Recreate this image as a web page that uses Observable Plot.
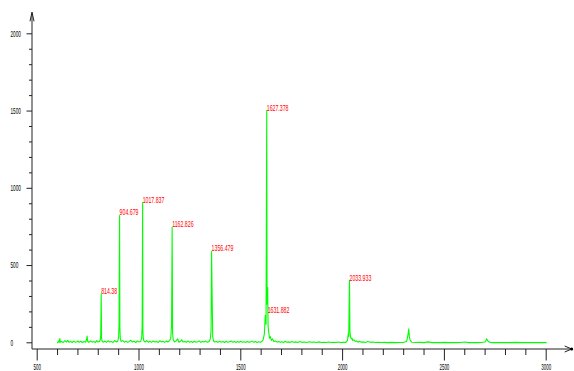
<!DOCTYPE html>
<html><head><meta charset="utf-8">
<script src="https://cdn.jsdelivr.net/npm/d3@7"></script>
<script src="https://cdn.jsdelivr.net/npm/@observablehq/plot@0.6"></script>
<style>body{margin:0;background:#fff} #chart svg{display:block}</style>
</head><body><div id="chart"></div>
<script>
const spectrumMz = [600,604,608,611,614,620,628,636,644,650,656,664,672,680,688,696,700,706,714,722,730,738,742,745,748,754,762,770,778,786,792,798,806,810,812,814.38,816,818,824,832,840,848,856,864,872,880,888,896,900,902,903.5,904.679,906,908,912,920,928,936,944,952,960,968,976,984,992,1000,1008,1013,1015.5,1017.837,1019,1021,1024,1030,1038,1046,1054,1062,1070,1078,1086,1094,1102,1110,1118,1126,1134,1142,1150,1156,1160,1162.826,1165,1168,1174,1182,1190,1196,1204,1210,1216,1224,1232,1240,1248,1256,1264,1272,1280,1288,1296,1304,1312,1320,1328,1336,1344,1350,1354,1356.479,1359,1362,1366,1372,1380,1388,1396,1404,1412,1420,1428,1436,1444,1452,1460,1468,1476,1484,1492,1500,1508,1516,1524,1532,1540,1548,1556,1564,1572,1580,1588,1596,1604,1610,1616,1620,1624,1627.378,1629,1631.882,1634,1637,1641,1645,1650,1656,1662,1670,1678,1686,1694,1702,1710,1718,1726,1734,1742,1750,1760,1770,1780,1790,1800,1812,1824,1836,1848,1860,1872,1884,1896,1908,1920,1932,1944,1956,1968,1980,1992,2004,2016,2024,2028,2030,2033.933,2036,2039,2042,2046,2050,2056,2062,2068,2076,2084,2092,2100,2112,2124,2136,2148,2160,2175,2190,2205,2220,2240,2260,2280,2300,2314,2318,2322,2325,2328,2331,2335,2340,2360,2380,2400,2420,2440,2460,2480,2500,2520,2540,2560,2580,2600,2620,2640,2660,2680,2700,2704,2707,2710,2713,2718,2725,2740,2760,2780,2800,2820,2850,2880,2910,2940,2970,3000];
const spectrumIntensity = [0,12,3,28,4,8,2,14,5,16,3,9,2,11,4,7,13,3,10,2,8,4,18,43,10,3,12,4,9,2,14,5,8,20,50,317,40,12,4,10,3,13,5,9,2,15,6,10,40,120,520,824,100,30,8,14,4,11,3,9,16,5,10,2,12,6,9,30,110,908,80,30,12,5,14,4,10,3,12,5,9,2,13,6,10,3,11,5,14,30,120,748,60,20,6,12,25,4,10,20,5,9,3,12,4,8,2,10,4,7,12,3,9,5,11,3,8,25,80,591,327,40,12,5,9,3,11,4,8,2,10,3,7,12,4,9,2,8,3,10,4,7,2,9,3,6,11,3,8,2,7,4,9,20,60,177,120,1503,250,357,110,70,30,40,15,25,8,12,4,9,3,7,2,10,3,6,2,8,3,6,2,9,3,5,2,7,3,5,2,6,2,4,2,5,2,4,2,5,2,4,3,15,60,40,403,69,40,25,30,15,20,8,12,4,10,3,6,2,8,3,5,2,4,2,3,1,3,1,2,3,8,30,60,91,40,20,10,4,2,3,1,6,1,2,1,3,1,2,1,2,5,1,2,1,2,5,15,26,20,12,6,3,1,2,1,2,1,3,1,2,1,2,1];
const peakMz = [814.38, 904.679, 1017.837, 1162.826, 1356.479, 1627.378, 1631.882, 2033.933];
const peakIntensity = [317, 824, 908, 748, 591, 1503, 195, 403];
const peakLabel = ["814.38","904.679","1017.837","1162.826","1356.479","1627.378","1631.882","2033.933"];
const xMajorTicks = [500,1000,1500,2000,2500,3000];
const xMinorTicks = [600,700,800,900,1100,1200,1300,1400,1600,1700,1800,1900,2100,2200,2300,2400,2600,2700,2800,2900];
const yMajorTicks = [0,500,1000,1500,2000];
const yMinorTicks = [100,200,300,400,600,700,800,900,1100,1200,1300,1400,1600,1700,1800,1900];

const spectrum = spectrumMz.map((m,i)=>({mz:m, intensity:spectrumIntensity[i]}));
const peaks = peakMz.map((m,i)=>({mz:m, intensity:peakIntensity[i], label:peakLabel[i]}));

const FONT = "'Liberation Sans', Arial, sans-serif";
const plot = Plot.plot({
  width: 574, height: 371,
  marginLeft: 36.7, marginRight: 28.3, marginTop: 33.3, marginBottom: 28.7,
  style: {background: "#fff", fontFamily: FONT, fontSize: "9px", color: "#000"},
  x: {domain: [500, 3000]},
  y: {domain: [0, 2000]},
  marks: [
    Plot.axisY({ticks: yMinorTicks, tickSize: 3, tickFormat: () => "", dx: -4.7, stroke: "#222", label: null}),
    Plot.axisY({ticks: yMajorTicks, tickSize: 5.5, tickPadding: 16.5, textAnchor: "start", tickFormat: d => String(d), dx: -4.7, stroke: "#222", fill: "#000", fontSize: 9, label: null}),
    Plot.axisX({ticks: xMinorTicks, anchor: "bottom", tickSize: 6, tickFormat: () => "", dy: 6.7, stroke: "#222", label: null}),
    Plot.axisX({ticks: xMajorTicks, anchor: "bottom", tickSize: 11.5, tickPadding: 2.5, tickFormat: d => String(d), dy: 6.7, stroke: "#222", fill: "#000", fontSize: 8.5, label: null}),
    Plot.line(spectrum, {x: "mz", y: "intensity", stroke: "#00ff00", strokeWidth: 1.1}),
    Plot.text(peaks, {x: "mz", y: "intensity", text: "label", textAnchor: "start", lineAnchor: "bottom", dx: 0, dy: 0, fill: "#ff0000", fontSize: 9})
  ]
});
document.getElementById("chart").appendChild(plot);

const svg = d3.select(plot);
// condensed look of the original's bitmap font
svg.selectAll("text").each(function() {
  const t = this.textContent;
  if (!t) return;
  const red = d3.select(this.closest("g")).attr("fill") === "#ff0000" || this.getAttribute("fill") === "#ff0000";
  const w = this.getComputedTextLength();
  if (w > 0) {
    d3.select(this).attr("textLength", w * (red ? 0.58 : 0.52)).attr("lengthAdjust", "spacingAndGlyphs");
  }
});

// axis lines and arrow heads (decoration), positioned from the scales
const sx = plot.scale("x"), sy = plot.scale("y");
const axX = sx.apply(500) - 4.7, axY = sy.apply(0) + 6.7;
const axTop = sy.apply(2000) - 21, axRight = sx.apply(3000) + 26;
const g = svg.append("g").attr("stroke", "#222").attr("fill", "none").attr("stroke-width", 1);
g.append("line").attr("x1", axX).attr("x2", axX).attr("y1", axTop).attr("y2", axY);
g.append("line").attr("x1", axX).attr("x2", axRight).attr("y1", axY).attr("y2", axY);
g.append("path").attr("d", `M${axX-2},${axTop+9}L${axX},${axTop}L${axX+2},${axTop+9}`);
g.append("path").attr("d", `M${axRight-7},${axY-3}L${axRight},${axY}L${axRight-7},${axY+3}`);
svg.append("circle").attr("cx", axRight).attr("cy", axY).attr("r", 1.5).attr("fill", "#000");
</script>
</body></html>
